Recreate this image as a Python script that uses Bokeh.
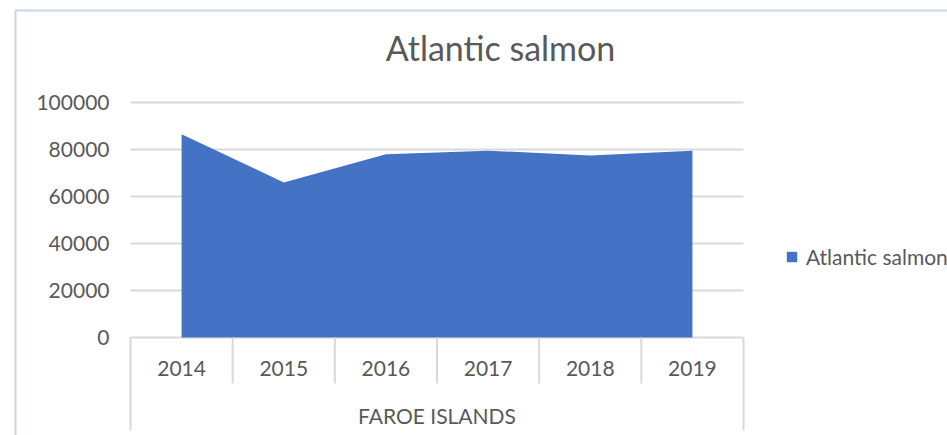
from bokeh.plotting import figure
from bokeh.models import (Range1d, FixedTicker, BasicTickFormatter, Label, Legend,
                          LegendItem, BoxAnnotation, ColumnDataSource, LinearAxis)
from bokeh.core.properties import value
from bokeh.embed import file_html
from bokeh.resources import INLINE

# ---- data ----
years = ["2014", "2015", "2016", "2017", "2018", "2019"]
salmon = [86500, 66000, 78000, 79500, 77500, 79500]
series_name = "Atlantic salmon"
group_label = "FAROE ISLANDS"
chart_title = "Atlantic salmon"
y_ticks = [0, 20000, 40000, 60000, 80000, 100000]

# ---- layout helpers (pixel targets -> data units) ----
W, H = 947, 435
XL, XR = 130, 743          # category area, px
Y0, Y100 = 337, 102        # y=0 and y=100000, px
XPX = (XR - XL) / len(years)
YPX = (Y0 - Y100) / 100000

def px_x(px):
    return -0.5 + (px - XL) / XPX

def px_y(py):
    return (Y0 - py) / YPX

FONT = "Lato"
GREY = "#595959"
LINE = "#d9d9d9"
BLUE = "#4472c4"

p = figure(width=W, height=H, output_backend="svg", toolbar_location=None,
           x_range=Range1d(px_x(0), px_x(W)), y_range=Range1d(px_y(H), px_y(0)),
           x_axis_location=None, y_axis_location=None,
           min_border_left=0, min_border_right=0, min_border_top=0, min_border_bottom=0)
p.outline_line_color = None
p.background_fill_color = "white"
p.border_fill_color = "white"
p.grid.visible = False

idx = list(range(len(years)))
n = len(years)
src = ColumnDataSource(dict(x=idx, y=salmon, zero=[0] * n))
area = p.varea(x="x", y1="zero", y2="y", source=src, fill_color=BLUE)

# gridlines (value axis) incl. category axis line at 0
p.segment(x0=[-0.5] * len(y_ticks), y0=y_ticks, x1=[n - 0.5] * len(y_ticks), y1=y_ticks,
          line_color=LINE, line_width=2, level="underlay")

# value axis labels
ax = LinearAxis(ticker=FixedTicker(ticks=y_ticks),
                formatter=BasicTickFormatter(use_scientific=False),
                fixed_location=-0.5)
ax.axis_line_color = None
ax.major_tick_line_color = None
ax.minor_tick_line_color = None
ax.major_tick_out = 0
ax.major_tick_in = 0
ax.major_label_standoff = 21
ax.major_label_text_font = FONT
ax.major_label_text_font_size = "21px"
ax.major_label_text_color = GREY
p.add_layout(ax, "left")

# category separators
inner = [i + 0.5 for i in idx[:-1]]
p.segment(x0=inner, y0=[0] * len(inner), x1=inner, y1=[px_y(383)] * len(inner),
          line_color=LINE, line_width=2)
outer = [-0.5, n - 0.5]
p.segment(x0=outer, y0=[0, 0], x1=outer, y1=[px_y(430)] * 2,
          line_color=LINE, line_width=2)

# category labels
p.text(x=idx, y=[px_y(368)] * n, text=years, text_align="center",
       text_baseline="middle", text_font=value(FONT), text_font_size="21px",
       text_color=GREY)
p.text(x=[(n - 1) / 2], y=[px_y(415)], text=[group_label], text_align="center",
       text_baseline="middle", text_font=value(FONT), text_font_size="21px",
       text_color=GREY)

# title
p.add_layout(Label(x=px_x(500), y=px_y(47), text=chart_title, text_align="center",
                   text_baseline="middle", text_font=FONT, text_font_size="34px",
                   text_color=GREY))

# legend
leg = Legend(items=[LegendItem(label=series_name, renderers=[area])],
             location=(785, H - 269), padding=0, margin=0, spacing=0,
             glyph_width=13, glyph_height=13, label_standoff=8,
             label_text_font=FONT, label_text_font_size="21px", label_text_color=GREY,
             border_line_color=None, background_fill_alpha=0)
p.add_layout(leg)

# chart border (selected chart frame)
p.add_layout(BoxAnnotation(left=px_x(15), right=px_x(3000), top=px_y(10), bottom=px_y(3000),
                           fill_alpha=0, line_color=BLUE, line_width=2))

open("out.html", "w").write(file_html(p, INLINE))
